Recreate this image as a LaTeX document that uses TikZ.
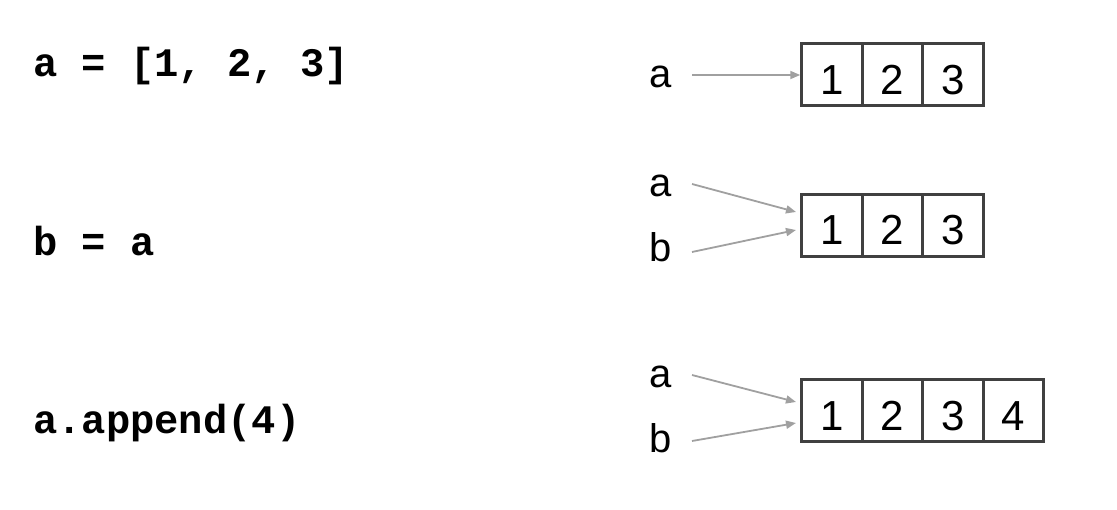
\documentclass[tikz,border=0pt]{standalone}
\usepackage{fontspec}
\setmainfont{Liberation Sans}
\newfontfamily\codefont{Liberation Mono}
\usetikzlibrary{arrows.meta}
\definecolor{boxline}{RGB}{64,64,64}
\definecolor{arrgray}{RGB}{160,160,160}
\tikzset{
  cell/.style={draw=boxline, line width=3pt, minimum width=60.5pt, minimum height=62pt, inner sep=0pt},
  num/.style={anchor=base, inner sep=0pt, font=\fontsize{42}{42}\selectfont},
  code/.style={anchor=base west, inner sep=0pt, font=\codefont\bfseries\fontsize{40.5}{40.5}\selectfont},
  lbl/.style={anchor=base, inner sep=0pt, font=\fontsize{40}{40}\selectfont},
  arr/.style={draw=arrgray, line width=1.8pt, -{Triangle[length=10pt,width=8pt]}}
}
\begin{document}
\begin{tikzpicture}[x=1pt,y=-1pt]
\useasboundingbox (0,0) rectangle (1117,510);
% code
\node[code] (c1) at (33,77) {a = [1, 2, 3]};
\node[code] (c2) at (33,256) {b = a};
\node[code] (c3) at (33,434) {a.append(4)};
% row 1
\node[cell] (r11) at (832,75) {};
\node[cell] (r12) at (892.5,75) {};
\node[cell] (r13) at (953,75) {};
\node[num] (n11) at (832,95) {1};
\node[num] (n12) at (892.5,95) {2};
\node[num] (n13) at (953,95) {3};
\node[lbl] (la1) at (661,88) {a};
\coordinate (sa1) at (692,75);
\draw[arr] (sa1) -- (r11.west);
% row 2
\node[cell] (r21) at (832,225.5) {};
\node[cell] (r22) at (892.5,225.5) {};
\node[cell] (r23) at (953,225.5) {};
\node[num] (n21) at (832,245) {1};
\node[num] (n22) at (892.5,245) {2};
\node[num] (n23) at (953,245) {3};
\node[lbl] (la2) at (661,197) {a};
\node[lbl] (lb2) at (661,262) {b};
\coordinate (sa2) at (692,184);
\coordinate (sb2) at (692,252);
\coordinate (ta2) at (796,212);
\coordinate (tb2) at (796,230);
\draw[arr] (sa2) -- (ta2);
\draw[arr] (sb2) -- (tb2);
% row 3
\node[cell] (r31) at (832,411) {};
\node[cell] (r32) at (892.5,411) {};
\node[cell] (r33) at (953,411) {};
\node[cell] (r34) at (1013.5,411) {};
\node[num] (n31) at (832,431) {1};
\node[num] (n32) at (892.5,431) {2};
\node[num] (n33) at (953,431) {3};
\node[num] (n34) at (1013.5,431) {4};
\node[lbl] (la3) at (661,388) {a};
\node[lbl] (lb3) at (661,453) {b};
\coordinate (sa3) at (692,375);
\coordinate (sb3) at (692,441);
\coordinate (ta3) at (796,402);
\coordinate (tb3) at (796,423);
\draw[arr] (sa3) -- (ta3);
\draw[arr] (sb3) -- (tb3);
\end{tikzpicture}
\end{document}
